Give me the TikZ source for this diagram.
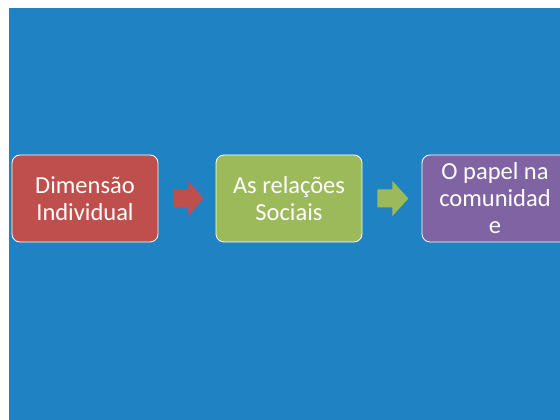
\documentclass[tikz,border=0pt]{standalone}
\usepackage{fontspec}
\setmainfont{Carlito}

\definecolor{bg}{rgb}{0.12,0.51,0.76}
\definecolor{c1}{rgb}{0.75,0.31,0.30}
\definecolor{c2}{rgb}{0.61,0.73,0.35}
\definecolor{c3}{rgb}{0.50,0.39,0.64}

\tikzset{
	box/.style={draw=white,line width=0.8pt,rounded corners=8pt,minimum width=146pt,minimum height=87pt,
		align=center,text=white,inner sep=0pt,
		font=\fontsize{24.5}{27}\selectfont}
}

\begin{document}
\begin{tikzpicture}[x=1pt,y=1pt]

	\clip (0,0) rectangle (560,420);
	\fill[bg] (9,0) rectangle (560,412);

	\node[box,fill=c1] at (85,221.5) (1) {Dimensão\\Individual};
	\node[box,fill=c2] at (289,221.5) (2) {As relações\\Sociais};
	\node[box,fill=c3] at (495,221.5) (3) {O papel na\\comunidad\\e};

	% block arrows
	\coordinate (4) at ([xshift=15pt]1.east);
	\coordinate (5) at ([xshift=15pt]2.east);
	\fill[c1] (4) ++(0,9) -- ++(15,0) -- ++(0,8.5) -- ++(15,-17.5) -- ++(-15,-17.5) -- ++(0,8.5) -- ++(-15,0) -- cycle;
	\fill[c2] (5) ++(0,9) -- ++(15,0) -- ++(0,8.5) -- ++(16,-17.5) -- ++(-16,-17.5) -- ++(0,8.5) -- ++(-15,0) -- cycle;

\end{tikzpicture}
\end{document}
